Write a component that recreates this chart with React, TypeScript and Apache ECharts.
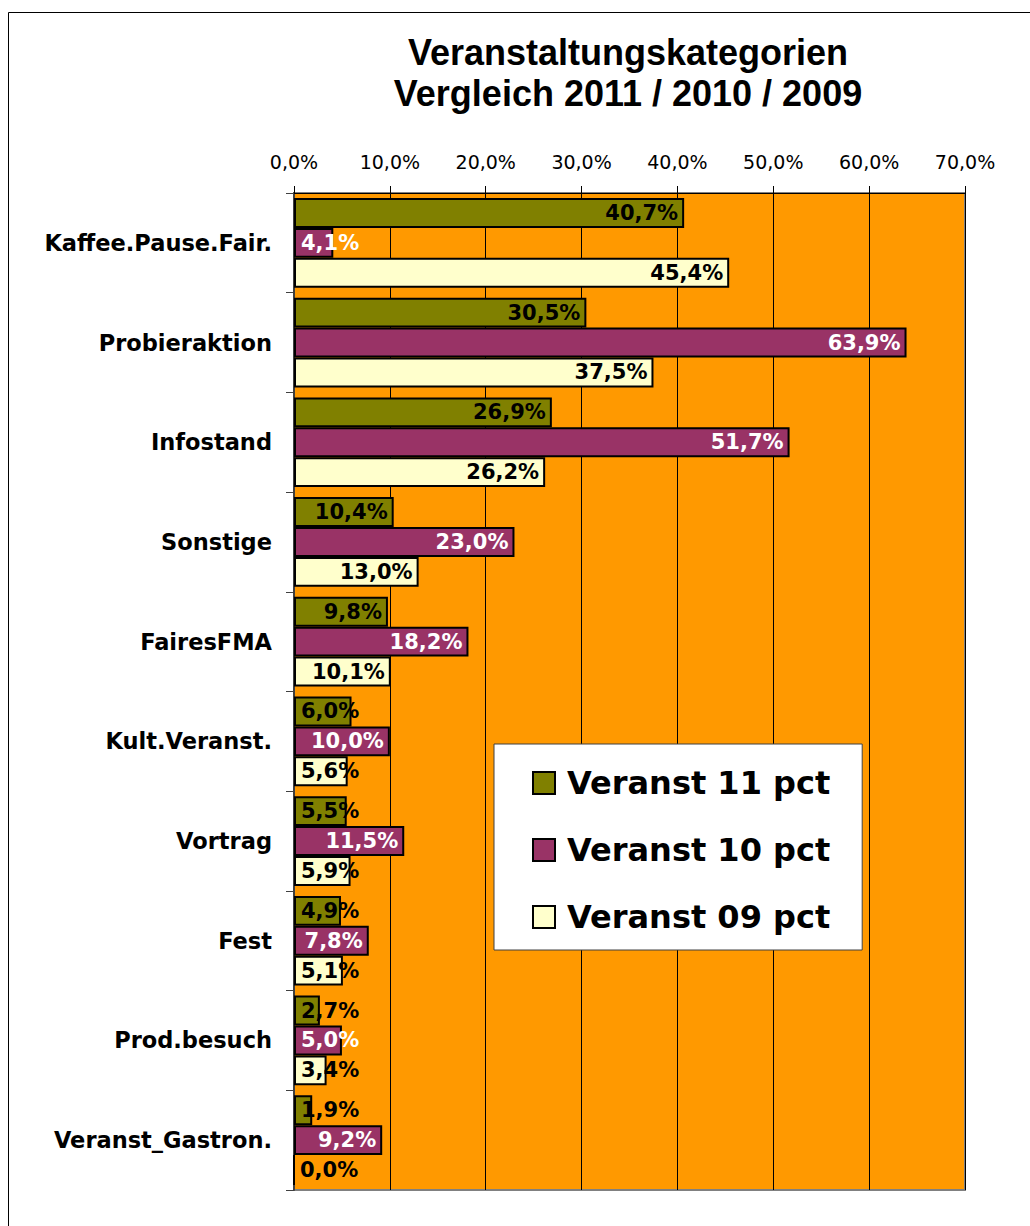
import React, { useEffect, useRef } from "react";
import * as echarts from "echarts";

const categories = [
  "Kaffee.Pause.Fair.",
  "Probieraktion",
  "Infostand",
  "Sonstige",
  "FairesFMA",
  "Kult.Veranst.",
  "Vortrag",
  "Fest",
  "Prod.besuch",
  "Veranst_Gastron.",
];
const veranst11 = [40.7, 30.5, 26.9, 10.4, 9.8, 6.0, 5.5, 4.9, 2.7, 1.9];
const veranst10 = [4.1, 63.9, 51.7, 23.0, 18.2, 10.0, 11.5, 7.8, 5.0, 9.2];
const veranst09 = [45.4, 37.5, 26.2, 13.0, 10.1, 5.6, 5.9, 5.1, 3.4, 0.0];
const seriesNames = ["Veranst 11 pct", "Veranst 10 pct", "Veranst 09 pct"];
const xTicks = { min: 0, max: 70, interval: 10 };

const fmt = (v: number) => v.toFixed(1).replace(".", ",") + "%";

const TITLE_FONT = "'Liberation Sans', Arial, sans-serif";
const FONT = "'DejaVu Sans', Verdana, sans-serif";

export default function App() {
  const ref = useRef<HTMLDivElement>(null);
  useEffect(() => {
    document.body.style.margin = "0";
    const chart = echarts.init(ref.current!, null, { renderer: "svg" });
    const mk = (name: string, vals: number[], color: string, textColor: string) => ({
      name,
      type: "bar",
      barGap: "0%",
      barCategoryGap: "10%",
      itemStyle: { color, borderColor: "#000", borderWidth: 2 },
      data: vals.map((v) => ({
        value: v,
        label: {
          show: true,
          position: v < 7 ? "insideLeft" : "insideRight",
          distance: v < 7 ? 7 : 6,
          formatter: (p: any) => fmt(p.value),
          color: textColor,
          fontFamily: FONT,
          fontWeight: "bold",
          fontSize: 21,
        },
      })),
    });
    chart.setOption({
      animation: false,
      backgroundColor: "#fff",
      grid: {
        left: 294,
        right: 65,
        top: 193,
        bottom: 36,
        show: true,
        backgroundColor: "#FF9900",
        borderColor: "#808080",
        borderWidth: 2,
      },
      xAxis: {
        type: "value",
        position: "top",
        min: xTicks.min,
        max: xTicks.max,
        interval: xTicks.interval,
        axisLine: { show: true, lineStyle: { color: "#000", width: 1 } },
        axisTick: { show: true, inside: false, length: 7, lineStyle: { color: "#000" } },
        axisLabel: {
          formatter: (v: number) => fmt(v),
          fontFamily: FONT,
          fontSize: 19,
          color: "#000",
          margin: 22,
        },
        splitLine: { show: true, lineStyle: { color: "#000", width: 1 } },
      },
      yAxis: {
        type: "category",
        inverse: true,
        data: categories,
        axisLine: { show: true, lineStyle: { color: "#404040", width: 2 } },
        axisTick: { show: true, length: 8, lineStyle: { color: "#404040" } },
        axisLabel: {
          fontFamily: FONT,
          fontWeight: "bold",
          fontSize: 22.5,
          color: "#000",
          margin: 22,
        },
      },
      legend: {
        orient: "vertical",
        left: 494,
        top: 744,
        data: seriesNames,
        backgroundColor: "#fff",
        borderColor: "#404040",
        borderWidth: 1,
        padding: [19, 32, 13, 38],
        itemWidth: 22,
        itemHeight: 22,
        itemGap: 27,
        icon: "rect",
        textStyle: {
          fontFamily: FONT,
          fontWeight: "bold",
          fontSize: 32,
          color: "#000",
          lineHeight: 40,
          padding: [0, 0, 0, 7],
        },
      },
      graphic: [
        {
          type: "rect",
          shape: { x: 8.5, y: 12.5, width: 1100, height: 1300 },
          style: { fill: "none", stroke: "#000", lineWidth: 1 },
          silent: true,
        },
        {
          type: "text",
          x: 628,
          y: 32,
          style: {
            text: "Veranstaltungskategorien\nVergleich 2011 / 2010 / 2009",
            font: `bold 36px ${TITLE_FONT}`,
            textAlign: "center",
            textVerticalAlign: "top",
            lineHeight: 41,
            fill: "#000",
          },
        },
      ],
      series: [
        mk(seriesNames[0], veranst11, "#808000", "#000"),
        mk(seriesNames[1], veranst10, "#993366", "#fff"),
        mk(seriesNames[2], veranst09, "#FFFFCC", "#000"),
      ],
    });
    return () => chart.dispose();
  }, []);
  return <div ref={ref} style={{ width: 1030, height: 1226 }} />;
}
